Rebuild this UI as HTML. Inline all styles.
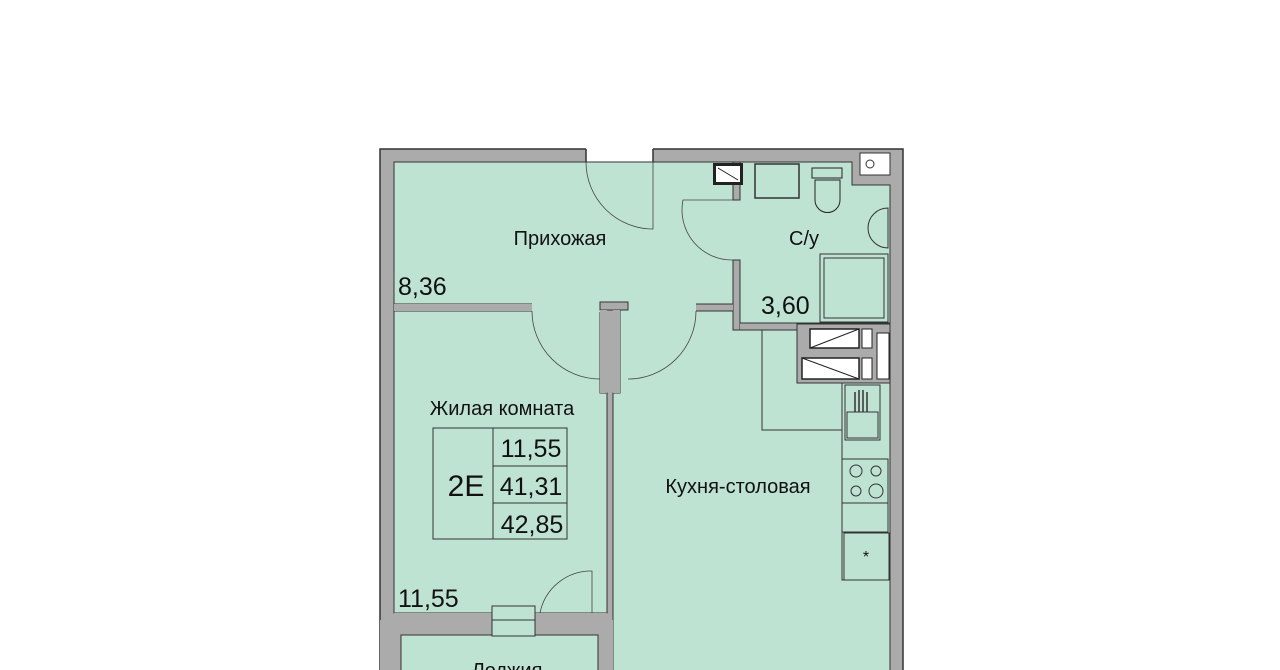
<!DOCTYPE html>
<html><head><meta charset="utf-8"><style>
html,body{margin:0;padding:0;background:#fff;width:1280px;height:670px;overflow:hidden}
svg{display:block}
text{font-family:"Liberation Sans",Arial,sans-serif;fill:#111}
</style></head><body>
<svg width="1280" height="670" viewBox="0 0 1280 670" xmlns="http://www.w3.org/2000/svg">
<rect x="380" y="149" width="523" height="530" fill="#ababab" stroke="#333" stroke-width="1.5"/>
<rect x="586" y="148" width="67" height="16" fill="#fff"/>
<line x1="586" y1="149" x2="586" y2="162" stroke="#333" stroke-width="1.5"/>
<line x1="653" y1="149" x2="653" y2="162" stroke="#333" stroke-width="1.5"/>
<rect x="586" y="162" width="67" height="2" fill="#bfe3d2"/>
<!-- hallway + kitchen -->
<path d="M394 162 H733 V330 H797 V383 H890 V679 H613 V393 H620 V310 H394 Z" fill="#bfe3d2" stroke="#333" stroke-width="1"/>
<!-- bathroom -->
<path d="M740 162 H852 V185 H890 V323 H740 Z" fill="#bfe3d2" stroke="#333" stroke-width="1"/>
<rect x="732" y="200" width="10" height="60" fill="#bfe3d2"/>
<rect x="733" y="162" width="7" height="38" fill="#ababab" stroke="#333"/>
<rect x="733" y="260" width="7" height="70" fill="#ababab" stroke="#333"/>
<rect x="740" y="323" width="57" height="7" fill="#ababab"/>
<line x1="740" y1="323" x2="797" y2="323" stroke="#333"/>
<line x1="740" y1="330" x2="797" y2="330" stroke="#333"/>
<!-- living room -->
<path d="M394 311 H600 V393 H607 V613 H394 Z" fill="#bfe3d2" stroke="#333" stroke-width="1"/>
<rect x="532" y="303" width="68" height="9" fill="#bfe3d2"/>
<rect x="628" y="303" width="68" height="9" fill="#bfe3d2"/>
<rect x="600" y="302" width="28" height="8" fill="#ababab" stroke="#333" stroke-width="1"/>
<rect x="600" y="310" width="7" height="83" fill="#ababab"/>
<rect x="613" y="310" width="7" height="83" fill="#ababab"/>
<line x1="394" y1="304" x2="532" y2="304" stroke="#333"/>
<line x1="394" y1="311" x2="532" y2="311" stroke="#333"/>
<rect x="696" y="304" width="37" height="7" fill="#ababab"/>
<line x1="696" y1="304" x2="733" y2="304" stroke="#333"/>
<line x1="696" y1="311" x2="733" y2="311" stroke="#333"/>
<rect x="394" y="304" width="138" height="7" fill="#ababab"/>
<g fill="none" stroke="#444" stroke-width="0.8">
<path d="M586 162 A67 67 0 0 0 653 229 V162"/>
<path d="M733 200 H683 A50 50 0 0 0 733 260"/>
<path d="M532 311 A68 68 0 0 0 600 379"/>
<path d="M696 311 A68 68 0 0 1 628 379"/>
<path d="M540 613 A52 52 0 0 1 592 571 V613"/>
</g>
<path d="M762 330 V430 H842" fill="none" stroke="#333"/>
<!-- shaft block -->
<rect x="797" y="324" width="93" height="59" fill="#ababab" stroke="#333"/>
<rect x="810" y="329" width="49" height="19" fill="#fff" stroke="#222" stroke-width="1.5"/>
<line x1="810" y1="348" x2="859" y2="329" stroke="#222"/>
<rect x="862" y="329" width="10" height="19" fill="#fff" stroke="#222"/>
<rect x="802" y="358" width="57" height="21" fill="#fff" stroke="#222" stroke-width="1.5"/>
<line x1="802" y1="358" x2="859" y2="379" stroke="#222"/>
<rect x="862" y="358" width="10" height="21" fill="#fff" stroke="#222"/>
<rect x="877" y="333" width="12" height="46" fill="#fff" stroke="#222"/>
<!-- kitchen furniture -->
<rect x="842" y="383" width="48" height="197" fill="none" stroke="#333"/>
<rect x="845" y="385" width="35" height="55" fill="#bfe3d2" stroke="#333"/>
<rect x="847" y="412" width="31" height="26" fill="none" stroke="#333"/>
<g stroke="#333" stroke-width="1.5"><line x1="855" y1="392" x2="855" y2="412"/><line x1="859" y1="390" x2="859" y2="412"/><line x1="863" y1="390" x2="863" y2="412"/><line x1="867" y1="392" x2="867" y2="412"/></g>
<rect x="842" y="459" width="46" height="44" fill="#bfe3d2" stroke="#333"/>
<g fill="none" stroke="#333"><circle cx="856" cy="471" r="6"/><circle cx="876" cy="471" r="5"/><circle cx="856" cy="491" r="5"/><circle cx="876" cy="491" r="7"/></g>
<rect x="842" y="503" width="46" height="29" fill="none" stroke="#333"/>
<rect x="844" y="533" width="45" height="47" fill="#bfe3d2" stroke="#333"/>
<text x="866" y="562" font-size="16" text-anchor="middle">*</text>
<!-- bathroom fixtures -->
<rect x="713" y="163" width="30" height="22" fill="#222"/>
<rect x="716" y="166" width="24" height="16" fill="#fff"/>
<line x1="718" y1="168" x2="738" y2="180" stroke="#222"/>
<rect x="755" y="164" width="44" height="34" fill="#bfe3d2" stroke="#333" stroke-width="1.5"/>
<rect x="812" y="168" width="30" height="10" fill="#bfe3d2" stroke="#222"/>
<path d="M815 180 H840 V200 A12 12 0 0 1 815 200 Z" fill="#bfe3d2" stroke="#222"/>
<path d="M888 208 A20 20 0 0 0 888 248 Z" fill="#bfe3d2" stroke="#333"/>
<rect x="820" y="254" width="68" height="68" fill="#bfe3d2" stroke="#333"/>
<rect x="824" y="258" width="60" height="60" fill="none" stroke="#333"/>
<rect x="860" y="153" width="30" height="22" fill="#fff" stroke="#333"/>
<circle cx="870" cy="164" r="4" fill="none" stroke="#333"/>
<!-- loggia -->
<rect x="380" y="620" width="233" height="60" fill="#ababab"/>
<rect x="401" y="635" width="197" height="45" fill="#bfe3d2" stroke="#333"/>
<rect x="394" y="613" width="213" height="9" fill="#ababab"/>
<rect x="492" y="606" width="43" height="30" fill="#bfe3d2" stroke="#333"/>
<line x1="492" y1="620" x2="535" y2="620" stroke="#333"/>
<g fill="none" stroke="#333" stroke-width="1">
<rect x="433" y="428" width="134" height="111"/>
<line x1="493" y1="428" x2="493" y2="539"/>
<line x1="493" y1="466" x2="567" y2="466"/>
<line x1="493" y1="503" x2="567" y2="503"/>
</g>
<text x="560" y="245" font-size="20" text-anchor="middle">Прихожая</text>
<text x="804" y="245" font-size="20" text-anchor="middle">С/у</text>
<text x="398" y="295" font-size="25">8,36</text>
<text x="761" y="314" font-size="25">3,60</text>
<text x="502" y="415" font-size="20" text-anchor="middle">Жилая комната</text>
<text x="466" y="496" font-size="30" text-anchor="middle">2E</text>
<text x="531" y="457" font-size="25" text-anchor="middle">11,55</text>
<text x="531" y="495" font-size="25" text-anchor="middle">41,31</text>
<text x="532" y="533" font-size="25" text-anchor="middle">42,85</text>
<text x="738" y="493" font-size="20" text-anchor="middle">Кухня-столовая</text>
<text x="398" y="607" font-size="25">11,55</text>
<text x="507" y="677" font-size="20" text-anchor="middle">Лоджия</text>
</svg>
</body></html>
